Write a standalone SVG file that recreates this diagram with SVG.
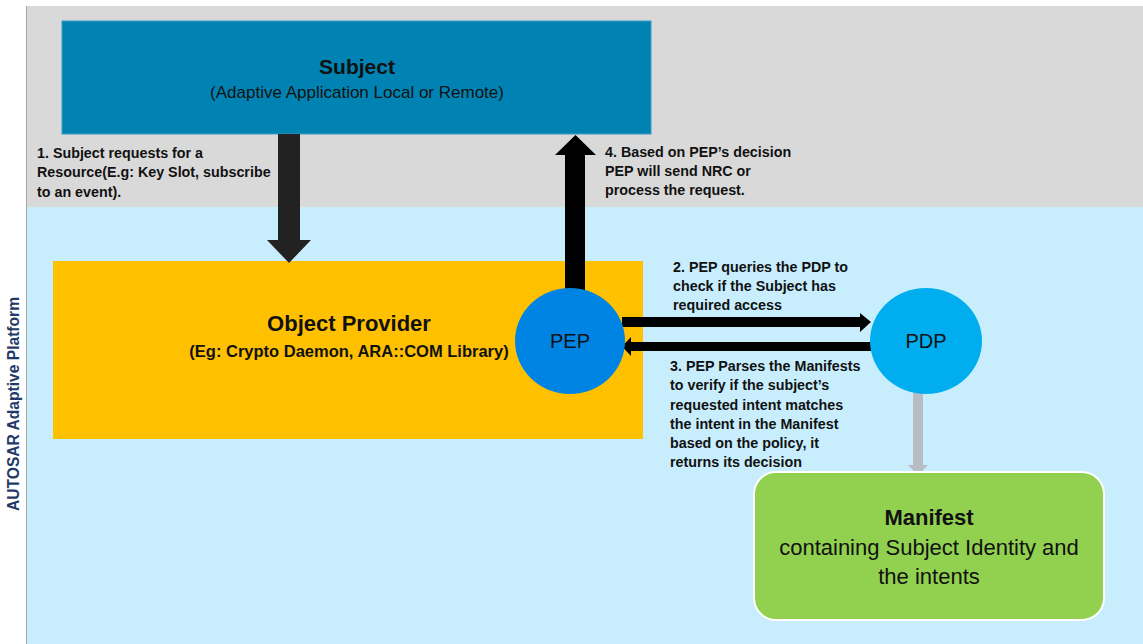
<svg xmlns="http://www.w3.org/2000/svg" width="1143" height="644" viewBox="0 0 1143 644">
  <style>
    text { font-family: "Liberation Sans", Arial, sans-serif; fill: #111; }
    .note { font-size: 14.3px; font-weight: bold; }
    .title { font-size: 21.5px; font-weight: bold; text-anchor: middle; }
    .sub { font-size: 17px; text-anchor: middle; }
    .circ { font-size: 20px; text-anchor: middle; }
    .body { font-size: 22px; text-anchor: middle; }
  </style>

  <!-- platform zones -->
  <rect x="0" y="0" width="1143" height="644" fill="#FFFFFF"/>
  <rect x="26" y="6" width="1117" height="201" fill="#D9D9D9"/>
  <rect x="26" y="207" width="1117" height="437" fill="#C8EEFE"/>
  <line x1="26.5" y1="6" x2="26.5" y2="644" stroke="#A6A6A6" stroke-width="1"/>
  <text x="0" y="0" transform="translate(19,404) rotate(-90)" text-anchor="middle" style="font-size:15.6px;font-weight:bold;fill:#1F3A68">AUTOSAR Adaptive Platform</text>

  <!-- Subject -->
  <g id="subject">
    <rect x="62" y="21" width="589" height="113" fill="#0083B3" stroke="#3A9CC6" stroke-width="1"/>
    <text class="title" x="357" y="74" style="font-size:21px">Subject</text>
    <text class="sub" x="357" y="98">(Adaptive Application Local or Remote)</text>
  </g>

  <!-- Object Provider -->
  <g id="object-provider">
    <rect x="53" y="261" width="590" height="178" fill="#FFC000"/>
    <text class="title" x="349" y="331" style="font-size:22px">Object Provider</text>
    <text class="sub" x="349" y="357" style="font-weight:bold;font-size:16.5px">(Eg: Crypto Daemon, ARA::COM Library)</text>
  </g>

  <!-- connectors -->
  <g id="connectors">
    <!-- 1: subject to object provider -->
    <polygon points="278,134 300,134 300,240 311,240 289,263 267,240 278,240" fill="#222222"/>
    <!-- 4: PEP back to subject -->
    <polygon points="565,290 585,290 585,155 596,155 575.5,135 555,155 565,155" fill="#000000"/>
    <!-- 2: PEP to PDP -->
    <polygon points="622,317 860,317 860,313 871,322 860,332 860,327 622,327" fill="#000000"/>
    <!-- 3: PDP to PEP -->
    <polygon points="871,342 631,342 631,337 622,346.5 631,356 631,351 871,351" fill="#000000"/>
    <!-- PDP to manifest -->
    <polygon points="913,393 923,393 923,465 928,465 918,475 908,465 913,465" fill="#B8BCC4"/>
  </g>

  <!-- PEP -->
  <g id="pep">
    <ellipse cx="570" cy="341" rx="55" ry="53" fill="#0084E3"/>
    <text class="circ" x="570" y="348">PEP</text>
  </g>

  <!-- PDP -->
  <g id="pdp">
    <ellipse cx="926" cy="341" rx="56" ry="53" fill="#00AEEF"/>
    <text class="circ" x="926" y="348">PDP</text>
  </g>

  <!-- Manifest -->
  <g id="manifest">
    <rect x="754" y="472" width="350" height="148" rx="22" ry="22" fill="#92D050" stroke="#FFFFFF" stroke-width="2"/>
    <text class="title" x="929" y="525" style="font-size:22px">Manifest</text>
    <text class="body" x="929" y="555">containing Subject Identity and</text>
    <text class="body" x="929" y="584">the intents</text>
  </g>

  <!-- step notes -->
  <g id="notes">
    <text class="note" x="37" y="158">1. Subject requests for a</text>
    <text class="note" x="37" y="177">Resource(E.g: Key Slot, subscribe</text>
    <text class="note" x="37" y="197">to an event).</text>

    <text class="note" x="605" y="157">4. Based on PEP’s decision</text>
    <text class="note" x="605" y="176">PEP will send NRC or</text>
    <text class="note" x="605" y="195">process the request.</text>

    <text class="note" x="673" y="272">2. PEP queries the PDP to</text>
    <text class="note" x="673" y="291">check if the Subject has</text>
    <text class="note" x="673" y="310">required access</text>

    <text class="note" x="670" y="371">3. PEP Parses the Manifests</text>
    <text class="note" x="670" y="390">to verify if the subject’s</text>
    <text class="note" x="670" y="410">requested intent matches</text>
    <text class="note" x="670" y="429">the intent in the Manifest</text>
    <text class="note" x="670" y="448">based on the policy, it</text>
    <text class="note" x="670" y="467">returns its decision</text>
  </g>
</svg>
